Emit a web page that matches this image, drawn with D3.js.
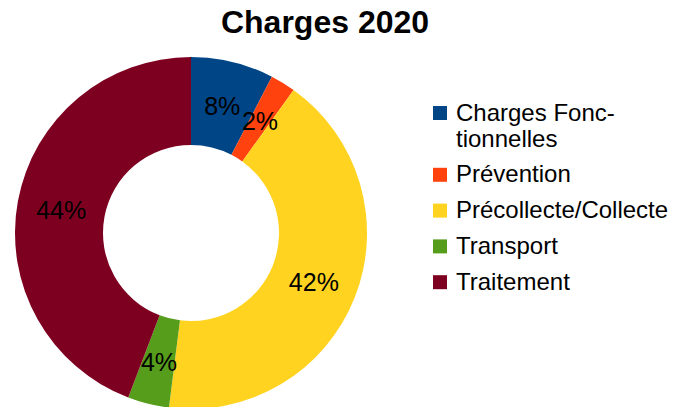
<!DOCTYPE html>
<html>
<head>
<meta charset="utf-8">
<script src="https://cdn.jsdelivr.net/npm/d3@7"></script>
<style>
  html, body { margin: 0; padding: 0; background: #fff; }
  svg { display: block; font-family: "Liberation Sans", Arial, sans-serif; }
</style>
</head>
<body>
<svg id="chart" width="673" height="407"></svg>
<script>
"use strict";
// Donut "Charges 2020": share of each cost heading, LibreOffice-style legend on the right.
const categories = ["Charges Fonctionnelles", "Prévention", "Précollecte/Collecte", "Transport", "Traitement"];
const legendLines = [["Charges Fonc-", "tionnelles"], ["Prévention"], ["Précollecte/Collecte"], ["Transport"], ["Traitement"]];
const shares = [7.6, 2.3, 42.1, 3.8, 44.2];
const colors = ["#004586", "#ff420e", "#ffd320", "#579d1c", "#7e0021"];

const svg = d3.select("#chart");
const cx = 191, cy = 233, outerR = 176, innerR = 88;

svg.append("text").attr("x", 325).attr("y", 33).attr("text-anchor", "middle")
  .attr("font-size", 32).attr("font-weight", "bold").text("Charges 2020");

const data = categories.map((c, i) => ({ name: c, value: shares[i], color: colors[i], lines: legendLines[i] }));
const pie = d3.pie().value((d) => d.value).sort(null);
const arc = d3.arc().innerRadius(innerR).outerRadius(outerR);
const labelArc = d3.arc().innerRadius((innerR + outerR) / 2).outerRadius((innerR + outerR) / 2);
const fmt = d3.format(".0f");

const g = svg.append("g").attr("transform", "translate(" + cx + "," + cy + ")");
const arcs = pie(data);
g.selectAll("path").data(arcs).enter().append("path")
  .attr("d", arc).attr("fill", (d) => d.data.color);
g.selectAll("text").data(arcs).enter().append("text")
  .attr("transform", (d) => "translate(" + labelArc.centroid(d) + ")")
  .attr("text-anchor", "middle").attr("dy", "0.4em").attr("font-size", 25)
  .text((d) => fmt(d.data.value) + "%");

// legend: stacked entries, the wrapped one takes two lines
const lineH = 26, gap = 9.8;
let yy = 113;
data.forEach((d) => { d.ly = yy; yy += d.lines.length * lineH + gap; });
const item = svg.append("g").selectAll("g").data(data).enter().append("g")
  .attr("transform", (d) => "translate(433," + d.ly + ")");
item.append("rect").attr("x", 0).attr("y", -7).attr("width", 14).attr("height", 14).attr("fill", (d) => d.color);
item.append("text").attr("x", 23).attr("y", 7.5).attr("font-size", 24)
  .selectAll("tspan").data((d) => d.lines).enter().append("tspan")
  .attr("x", 23).attr("dy", (t, j) => (j === 0 ? 0 : lineH)).text((t) => t);
</script>
</body>
</html>
